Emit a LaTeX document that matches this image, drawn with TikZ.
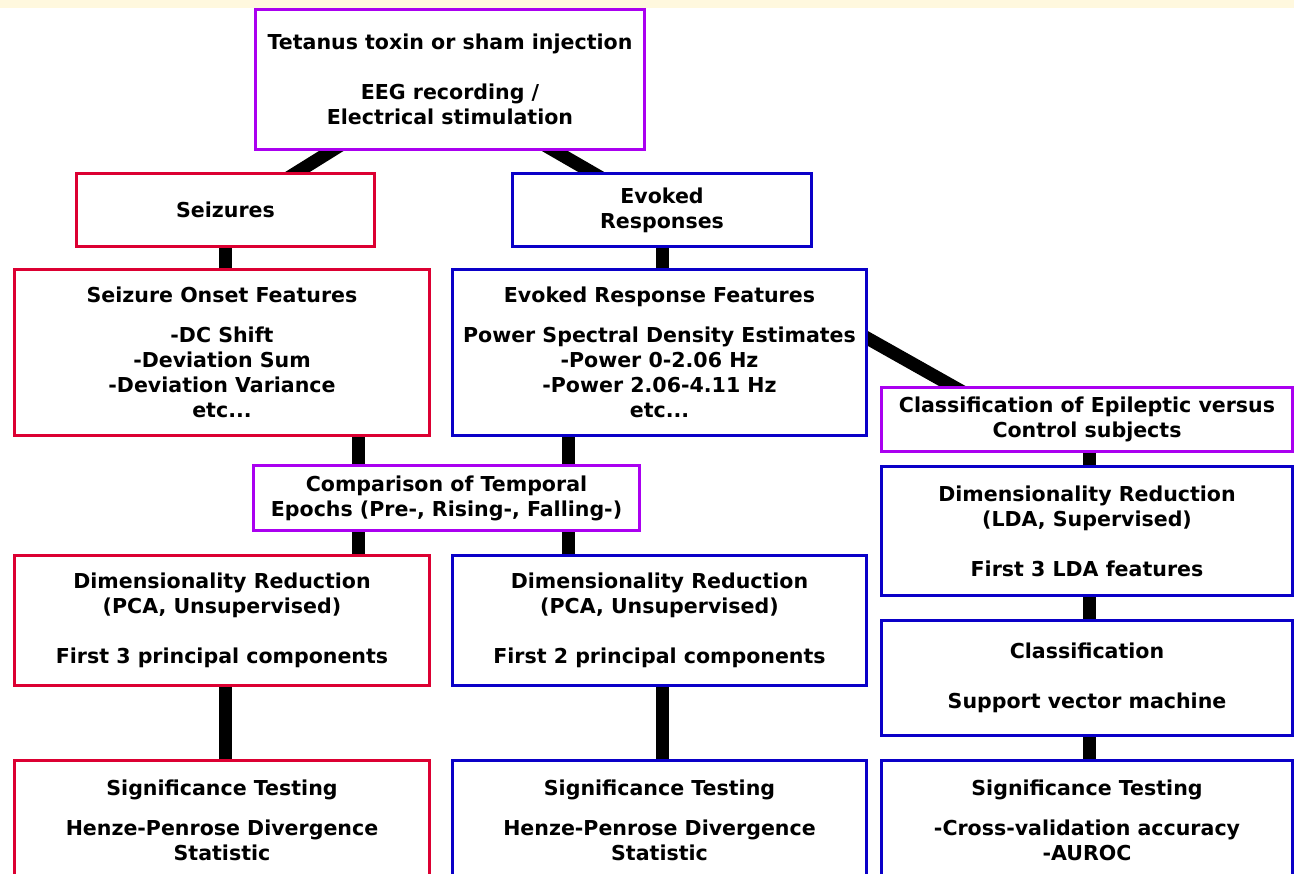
\documentclass[tikz,border=0pt]{standalone}
\usepackage{fontspec}
\setmainfont{DejaVu Sans}
\usetikzlibrary{backgrounds}
\definecolor{cpurple}{RGB}{170,0,240}
\definecolor{cred}{RGB}{220,0,50}
\definecolor{cblue}{RGB}{10,0,200}
\definecolor{stripcol}{RGB}{255,248,222}
\begin{document}
\begin{tikzpicture}[x=0.02cm,y=-0.02cm,
  box/.style={draw, fill=white, line width=0.06cm, inner sep=0pt, align=center,
    font=\fontsize{11.7}{14.2}\selectfont\bfseries},
  pbox/.style={box, draw=cpurple},
  rbox/.style={box, draw=cred},
  bbox/.style={box, draw=cblue},
  conn/.style={line width=0.26cm, draw=black}]
\useasboundingbox (0,0) rectangle (1294,874);
\clip (0,0) rectangle (1294,874);

\node[pbox, minimum width=7.8cm, minimum height=2.82cm] (top) at (450,79.5)
  {Tetanus toxin or sham injection\\[0.5cm]EEG recording /\\Electrical stimulation};
\node[rbox, minimum width=5.98cm, minimum height=1.48cm] (seiz) at (225.5,210) {Seizures};
\node[bbox, minimum width=6.0cm, minimum height=1.48cm] (evoked) at (662,210) {Evoked\\Responses};
\node[rbox, minimum width=8.32cm, minimum height=3.34cm] (sof) at (222,352.5)
  {Seizure Onset Features\\[0.3cm]-DC Shift\\-Deviation Sum\\-Deviation Variance\\etc...};
\node[bbox, minimum width=8.3cm, minimum height=3.34cm] (erf) at (659.5,352.5)
  {Evoked Response Features\\[0.3cm]Power Spectral Density Estimates\\-Power 0-2.06 Hz\\-Power 2.06-4.11 Hz\\etc...};
\node[pbox, minimum width=7.74cm, minimum height=1.32cm] (comp) at (446.5,498)
  {Comparison of Temporal\\Epochs (Pre-, Rising-, Falling-)};
\node[rbox, minimum width=8.32cm, minimum height=2.62cm] (pcaL) at (222,620.5)
  {Dimensionality Reduction\\(PCA, Unsupervised)\\[0.5cm]First 3 principal components};
\node[bbox, minimum width=8.3cm, minimum height=2.62cm] (pcaR) at (659.5,620.5)
  {Dimensionality Reduction\\(PCA, Unsupervised)\\[0.5cm]First 2 principal components};
\node[pbox, minimum width=8.24cm, minimum height=1.30cm] (epi) at (1087,419.5)
  {Classification of Epileptic versus\\Control subjects};
\node[bbox, minimum width=8.24cm, minimum height=2.6cm] (lda) at (1087,531)
  {Dimensionality Reduction\\(LDA, Supervised)\\[0.5cm]First 3 LDA features};
\node[bbox, minimum width=8.24cm, minimum height=2.32cm] (cls) at (1087,678)
  {Classification\\[0.5cm]Support vector machine};
\node[rbox, minimum width=8.32cm, minimum height=2.4cm] (sig1) at (222,820)
  {Significance Testing\\[0.3cm]Henze-Penrose Divergence\\Statistic};
\node[bbox, minimum width=8.3cm, minimum height=2.4cm] (sig2) at (659.5,820)
  {Significance Testing\\[0.3cm]Henze-Penrose Divergence\\Statistic};
\node[bbox, minimum width=8.24cm, minimum height=2.4cm] (sig3) at (1087,820)
  {Significance Testing\\[0.3cm]-Cross-validation accuracy\\-AUROC};

\coordinate (cL) at (358,498);
\coordinate (cR) at (568,498);

\begin{pgfonlayer}{background}
\fill[white] (0,0) rectangle (1294,874);
\fill[stripcol] (0,0) rectangle (1294,8);
\draw[conn] ([xshift=-0.08cm]top.center) -- ([xshift=0.22cm]seiz.center);
\draw[conn] ([xshift=-0.38cm]top.center) -- ([xshift=-0.1cm]evoked.center);
\draw[conn] (seiz.center) -- (seiz.center |- sof.center);
\draw[conn] (evoked.center) -- (evoked.center |- erf.center);
\draw[conn] (sof.center -| cL) -- (pcaL.center -| cL);
\draw[conn] (erf.center -| cR) -- (pcaR.center -| cR);
\draw[conn] ([xshift=0.06cm]pcaL.center) -- ([xshift=0.06cm]sig1.center);
\draw[conn] ([xshift=0.05cm]pcaR.center) -- ([xshift=0.05cm]sig2.center);
\draw[conn] ([xshift=2.41cm,yshift=1.27cm]erf.center) -- ([xshift=-1.79cm,yshift=0.16cm]epi.center);
\draw[conn] ([xshift=0.04cm]epi.center) -- ([xshift=0.04cm]sig3.center);
\end{pgfonlayer}
\end{tikzpicture}
\end{document}
